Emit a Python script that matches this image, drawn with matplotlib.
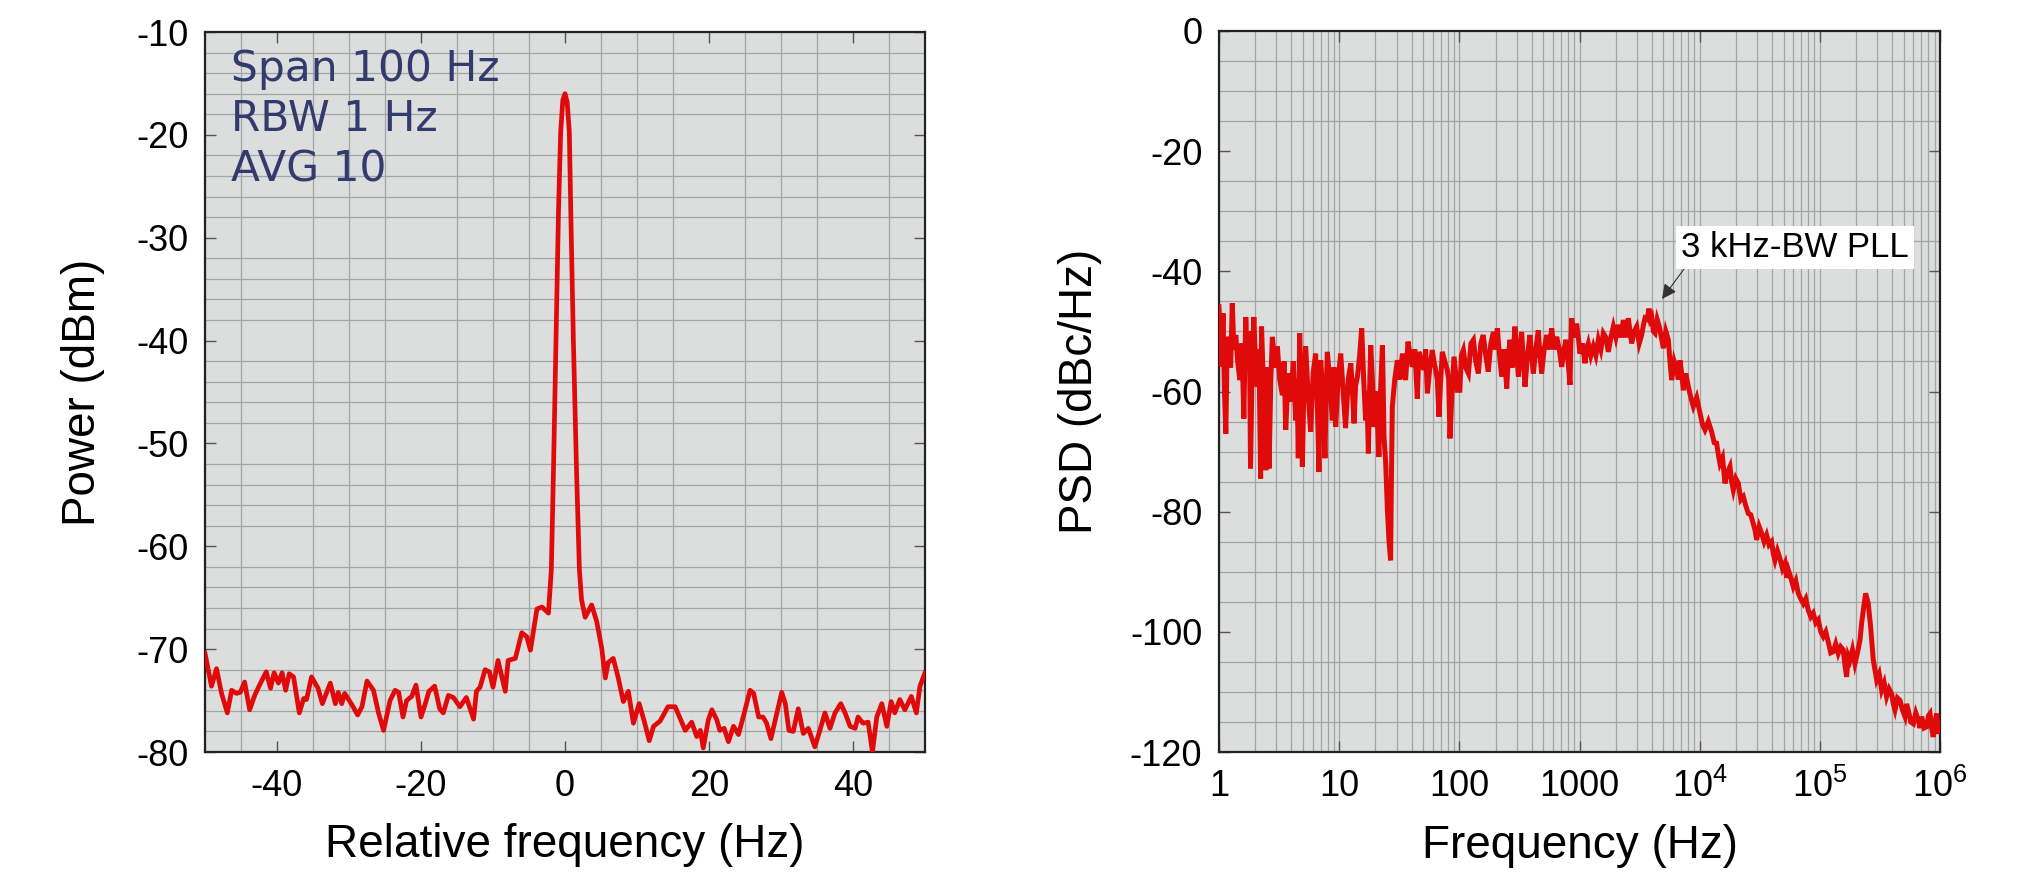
import matplotlib
matplotlib.use("Agg")
import matplotlib.pyplot as plt
from matplotlib.ticker import FixedLocator, NullFormatter, LogLocator

plt.rcParams['font.family'] = ['Liberation Sans', 'DejaVu Sans']
plt.rcParams['mathtext.fontset'] = 'custom'
plt.rcParams['mathtext.rm'] = 'Liberation Sans'
plt.rcParams['mathtext.it'] = 'Liberation Sans'
plt.rcParams['axes.unicode_minus'] = False

# ---------------- data: left panel (beat note spectrum) ----------------
left_freq = [-50.0, -49.1, -48.4, -47.7, -46.9, -46.3, -45.6, -45.1, -44.5, -43.8,
             -43.1, -42.5, -41.5, -40.9, -40.4, -39.8, -39.3, -38.8, -38.3, -37.7,
             -36.9, -36.3, -35.9, -35.2, -34.3, -33.7, -32.6, -31.9, -31.5, -31.0,
             -30.6, -29.6, -28.8, -28.2, -27.5, -26.6, -25.9, -25.2, -24.3, -23.6,
             -23.1, -22.5, -22.0, -21.3, -20.7, -20.0, -19.4, -18.9, -18.1,
             -17.4, -16.9, -16.2, -15.5, -14.6, -13.7, -12.7, -12.3, -11.8, -11.1,
             -10.5, -10.0, -9.3, -8.8, -8.3, -7.9, -6.9, -6.0, -5.3, -4.8,
             -3.9, -3.2, -2.3, -1.9, -1.6, -1.25, -0.9, -0.6, -0.3, 0.0,
             0.3, 0.6, 0.8, 1.16, 1.6, 2.0, 2.3, 2.8, 3.7, 4.4,
             5.1, 5.6, 6.0, 6.7, 7.4, 8.1, 8.8, 9.5, 10.3, 11.0,
             11.7, 12.3, 13.2, 14.3, 15.3,
             16.7, 17.6, 18.3, 18.8, 19.2, 19.9, 20.4, 21.1, 21.5, 22.1,
             22.7, 23.4, 24.1, 24.9, 25.7, 26.2, 26.9, 27.5, 28.0, 28.6,
             29.2, 30.1, 30.6, 31.1, 31.7, 32.4, 33.1, 33.8, 34.7, 35.4,
             36.1, 36.8, 37.5, 38.3, 38.9, 39.6, 40.3, 40.7, 41.4, 42.1,
             42.7, 43.3, 44.0, 44.7, 45.3, 45.8, 46.5, 47.2, 48.1, 48.8,
             49.3, 50.0]
left_power = [-70.4, -73.6, -71.9, -74.3, -76.2, -74.0, -74.3, -74.2, -73.2, -75.9,
              -74.5, -73.6, -72.2, -73.8, -72.3, -73.3, -72.3, -74.0, -72.4, -72.7,
              -76.2, -74.8, -74.9, -72.7, -73.8, -75.3, -73.3, -75.3, -74.2, -75.3,
              -74.3, -75.4, -76.4, -75.6, -73.1, -74.0, -76.2, -77.9, -75.0, -74.0,
              -74.2, -76.6, -75.0, -74.6, -73.5, -76.6, -75.3, -74.1, -73.6,
              -75.8, -76.2, -74.5, -74.7, -75.6, -74.7, -76.8, -74.1, -73.7, -72.0,
              -72.2, -73.7, -71.1, -72.6, -74.1, -71.1, -70.9, -68.4, -68.8, -70.1,
              -66.1, -65.9, -66.5, -62.3, -52.6, -39.9, -27.3, -19.7, -16.6, -16.0,
              -16.8, -19.7, -27.3, -39.9, -52.6, -62.3, -65.2, -66.9, -65.7, -67.3,
              -69.9, -72.8, -71.3, -70.9, -72.8, -75.1, -74.1, -77.2, -75.3, -77.0,
              -78.9, -77.5, -77.0, -75.6, -75.6,
              -77.9, -77.1, -78.5, -77.9, -79.6, -76.9, -75.9, -76.9, -77.9, -77.7,
              -79.0, -77.5, -78.3, -76.2, -74.0, -74.3, -76.6, -76.6, -77.2, -78.7,
              -76.9, -74.2, -75.3, -77.9, -78.0, -75.8, -78.2, -77.7, -79.5, -77.9,
              -76.2, -77.7, -76.2, -75.3, -76.2, -77.5, -77.7, -76.6, -77.2, -77.1,
              -80.0, -76.6, -75.3, -77.5, -75.1, -76.2, -74.9, -75.9, -74.6, -76.2,
              -73.6, -72.3]
left_xticks = [-40, -20, 0, 20, 40]
left_yticks = [-80, -70, -60, -50, -40, -30, -20, -10]
left_notes = ["Span 100 Hz", "RBW 1 Hz", "AVG 10"]

# ---------------- data: right panel (phase noise PSD) ----------------
right_freq = [
    1.0, 1.03, 1.05, 1.08, 1.11, 1.14, 1.17, 1.21, 1.25, 1.29,
    1.33, 1.38, 1.43, 1.49, 1.55, 1.61, 1.64, 1.67, 1.71, 1.75,
    1.79, 1.83, 1.89, 1.95, 2.01, 2.08, 2.15, 2.22, 2.24, 2.26,
    2.35, 2.45, 2.53, 2.61, 2.70, 2.78, 2.92, 3.06, 3.2, 3.37,
    3.48, 3.59, 3.77, 3.95, 4.15, 4.35, 4.46, 4.57, 4.63, 4.69,
    4.8, 4.94, 5.1, 5.26, 5.5, 5.79, 6.07, 6.37, 6.58, 6.79,
    6.9, 7.02, 7.3, 7.62, 7.8, 7.97, 8.35, 8.77, 9.05, 9.35,
    9.8, 10.3, 10.8, 11.3, 11.9, 12.5, 12.9, 13.3, 13.7, 14.2,
    14.8, 15.4, 16.0, 16.6, 17.0, 17.5, 17.9, 18.3, 18.9, 19.5,
    20.4, 21.4, 22.1, 22.9, 23.2, 23.6, 24.4, 25.2, 26.0, 26.8,
    27.2, 27.7, 29.0, 30.5, 32.0, 33.6, 34.6, 35.7, 36.5, 37.4,
    39.0, 40.6, 42.6, 44.7, 45.4, 46.1, 48.4, 50.8, 52.4, 54.2,
    56.8, 59.6, 61.5, 63.5, 65.6, 67.7, 70.0, 72.2, 75.7, 79.4,
    81.5, 83.6, 86.9, 90.3, 93.2, 96.2,
    101, 104, 108, 113, 119, 125, 131, 137, 144, 151,
    158, 166, 174, 183, 192, 200, 207, 216, 225, 236,
    248, 256, 264, 277, 290, 300, 310, 320, 330, 341,
    352, 369, 387, 400, 413, 433, 454, 469, 484, 508,
    533, 560, 587, 616, 646, 678, 711, 742, 773, 803,
    834, 847, 861, 903, 947, 978, 1009, 1060, 1111, 1147,
    1184, 1243, 1303, 1368, 1434, 1506, 1579, 1657, 1738, 1825,
    1913, 2008, 2105, 2210, 2317, 2430, 2549, 2630, 2717, 2850,
    2990, 3140, 3291, 3400, 3508, 3650, 3787, 3890, 3989, 4120,
    4250, 4430, 4617, 4800, 4989, 5230, 5485, 5660, 5848, 6140,
    6436, 6640, 6860, 7080, 7313, 7670, 8049, 8440, 8858, 9440,
    10060, 10550, 11070, 11800, 12580, 13200, 13840, 14300, 14760, 15500,
    16240, 17000, 17870, 18450, 19060, 20000, 20980, 22000, 23080, 24200,
    25400, 26600, 27950, 28850, 29800, 31300, 32800, 34400, 36070, 37800,
    39690, 41000, 42330, 44400, 46580, 48900, 51260, 52900, 54660, 57300,
    60150, 63100, 66190, 69400, 72830, 76400, 80140, 84100, 88190, 92500,
    97040, 101800, 106800, 112000, 117500, 123300, 129300, 135600, 142300, 149300,
    156600, 161700, 167000, 172400, 178100, 186800, 196000, 205600, 215700, 223000,
    230000, 240600, 253000, 264700, 278500, 297000, 311500, 326800, 343000, 359600,
    377300, 396000, 408800, 421900, 442600, 464300, 487100, 511000, 527400, 544400,
    571400, 599800, 629400, 660500, 681600, 703400, 738000, 774300, 799700, 825900,
    852000, 879000, 908000, 938000, 968500, 1000000]
right_psd = [
    -45.9, -52.0, -55.9, -47.0, -60.0, -67.0, -52.0, -50.9, -56.0, -45.3,
    -53.0, -50.6, -55.0, -58.1, -52.0, -64.5, -55.0, -47.6, -53.0, -56.4,
    -50.0, -72.8, -55.0, -47.6, -55.0, -59.2, -53.0, -74.5, -58.0, -49.2,
    -60.0, -73.1, -56.0, -72.8, -58.0, -50.9, -56.0, -52.5, -58.0, -60.6,
    -55.0, -66.4, -57.0, -61.7, -55.0, -64.8, -58.0, -71.1, -60.0, -50.3,
    -58.0, -72.5, -58.0, -52.5, -60.0, -66.7, -57.0, -53.7, -62.0, -73.4,
    -60.0, -54.8, -60.0, -71.1, -60.0, -53.4, -58.0, -64.8, -56.0, -65.9,
    -58.0, -53.7, -60.0, -66.1, -58.0, -55.3, -60.0, -65.3, -59.0, -57.5,
    -54.0, -49.5, -58.0, -64.8, -60.0, -70.3, -60.0, -52.3, -58.0, -65.9,
    -60.0, -70.9, -60.0, -52.3, -58.0, -67.5, -72.0, -79.7, -85.0, -88.1,
    -75.0, -62.5, -58.0, -54.8, -58.0, -53.7, -56.0, -58.1, -55.0, -51.7,
    -54.0, -55.9, -53.0, -61.2, -57.0, -53.4, -55.0, -56.4, -53.0, -60.3,
    -56.0, -53.1, -55.0, -56.4, -58.0, -64.2, -58.0, -53.4, -55.0, -56.4,
    -58.0, -67.8, -60.0, -54.2, -57.0, -59.8,
    -59.8, -54.0, -53.1, -56.0, -57.0, -52.0, -51.4, -55.0, -57.0, -52.0,
    -50.6, -54.0, -56.7, -52.0, -50.1, -53.0, -49.5, -54.0, -57.5, -53.0,
    -59.5, -54.0, -51.4, -56.0, -49.2, -53.0, -57.5, -53.0, -50.1, -55.0,
    -59.2, -54.0, -50.6, -54.0, -57.0, -53.0, -49.8, -54.0, -57.0, -53.0,
    -50.6, -53.0, -49.5, -53.0, -50.9, -53.0, -55.9, -53.0, -51.4, -55.0,
    -58.9, -52.0, -47.8, -51.0, -48.7, -51.0, -53.7, -52.0, -55.3, -53.0,
    -52.0, -54.0, -52.5, -54.0, -51.4, -53.0, -50.3, -51.0, -53.4, -51.0,
    -49.2, -51.0, -48.9, -51.0, -48.1, -51.0, -47.8, -50.0, -52.0, -50.0,
    -49.2, -52.0, -50.6, -49.0, -47.8, -48.0, -46.2, -48.0, -47.6, -50.0,
    -50.3, -48.0, -49.2, -51.0, -52.8, -50.0, -51.4, -55.0, -58.1, -55.0,
    -56.4, -58.0, -54.8, -57.0, -59.8, -57.0, -59.2, -61.0, -62.5, -61.0,
    -63.6, -65.5, -66.4, -65.0, -66.7, -68.5, -68.6, -70.5, -72.0, -71.0,
    -75.3, -73.5, -72.5, -75.0, -76.4, -74.5, -75.3, -78.0, -77.5, -79.0,
    -80.3, -80.5, -82.0, -83.0, -84.7, -82.5, -83.6, -85.0, -83.9, -85.5,
    -85.0, -87.0, -88.1, -86.5, -87.8, -89.5, -88.6, -91.0, -89.7, -91.0,
    -92.5, -91.5, -93.6, -94.5, -95.3, -94.5, -96.4, -97.5, -96.9, -98.5,
    -98.0, -100.0, -100.8, -100.0, -101.7, -103.5, -103.3, -102.0, -103.6, -102.5,
    -103.0, -105.5, -107.5, -104.0, -104.7, -103.0, -105.3, -103.5, -101.4, -98.5,
    -96.4, -93.6, -95.3, -99.2, -104.7, -108.0, -107.0, -109.7, -108.5, -110.8,
    -109.5, -110.3, -112.0, -113.0, -111.0, -111.4, -113.0, -114.1, -112.0, -113.0,
    -115.0, -115.3, -113.5, -114.7, -116.0, -114.1, -116.0, -115.8, -114.0, -113.6,
    -116.0, -117.5, -115.0, -113.6, -117.0, -115.3]
right_xticks = [1, 10, 100, 1000, 1e4, 1e5, 1e6]
right_xticklabels = ["1", "10", "100", "1000", r"$10^4$", r"$10^5$", r"$10^6$"]
right_yticks = [-120, -100, -80, -60, -40, -20, 0]
note_text = "3 kHz-BW PLL"
note_point = (4857, -44.6)
note_pos = (62000, -36.0)

# ---------------- styling ----------------
BG = '#dcdedd'
GRID = '#a2a5a5'
RED = '#e00a0a'
TICK_FS = 26
LABEL_FS = 33

fig = plt.figure(figsize=(20.22, 8.81), dpi=100)
axL = fig.add_axes([205/2022, 1 - 752/881, 720/2022, 720/881])
axR = fig.add_axes([1219/2022, 1 - 752/881, 721/2022, 721/881])

for ax in (axL, axR):
    ax.set_facecolor(BG)
    for s in ax.spines.values():
        s.set_linewidth(1.6)
        s.set_color('#222222')
    ax.tick_params(which='major', direction='in', length=8, width=1.0,
                   top=True, right=True, labelsize=TICK_FS, pad=12, color='#555555')
    ax.tick_params(which='minor', length=0)
    ax.set_axisbelow(True)

# left panel
axL.plot(left_freq, left_power, color=RED, lw=3.4, solid_joinstyle='round', zorder=3)
axL.set_xlim(-50, 50)
axL.set_ylim(-80, -10)
axL.xaxis.set_major_locator(FixedLocator(left_xticks))
axL.yaxis.set_major_locator(FixedLocator(left_yticks))
axL.xaxis.set_minor_locator(FixedLocator(list(range(-50, 51, 5))))
axL.yaxis.set_minor_locator(FixedLocator(list(range(-80, -9, 2))))
axL.grid(which='minor', color=GRID, lw=0.9)
axL.set_xlabel("Relative frequency (Hz)", fontsize=LABEL_FS, labelpad=14)
axL.set_ylabel("Power (dBm)", fontsize=LABEL_FS, labelpad=22)
for i, t in enumerate(left_notes):
    axL.text(231/2022, 1 - (81 + i*50)/881, t, transform=fig.transFigure,
             fontsize=30.5, color='#323a6e', family='DejaVu Sans',
             ha='left', va='baseline')

# right panel
axR.plot(right_freq, right_psd, color=RED, lw=3.6, solid_joinstyle='miter', zorder=3)
axR.set_xscale('log')
axR.set_xlim(1, 1e6)
axR.set_ylim(-120, 0)
axR.xaxis.set_major_locator(FixedLocator(right_xticks))
axR.set_xticklabels(right_xticklabels)
axR.xaxis.set_minor_locator(LogLocator(base=10, subs=range(2, 10), numticks=20))
axR.xaxis.set_minor_formatter(NullFormatter())
axR.yaxis.set_major_locator(FixedLocator(right_yticks))
axR.yaxis.set_minor_locator(FixedLocator(list(range(-120, 1, 5))))
axR.grid(which='both', axis='x', color=GRID, lw=0.9)
axR.grid(which='minor', axis='y', color=GRID, lw=0.9)
axR.set_xlabel("Frequency (Hz)", fontsize=LABEL_FS, labelpad=14)
axR.set_ylabel("PSD (dBc/Hz)", fontsize=LABEL_FS, labelpad=20)
axR.annotate(note_text, xy=note_point, xytext=note_pos, textcoords='data',
             fontsize=25, ha='center', va='center', color='black',
             bbox=dict(boxstyle='square,pad=0.15', fc='white', ec='none'),
             arrowprops=dict(arrowstyle='-|>', color='#333333', lw=0.8,
                             mutation_scale=22, shrinkA=0, shrinkB=0,
                             relpos=(0.03, 0.0)),
             zorder=5)

fig.savefig("out.png", dpi=100)
